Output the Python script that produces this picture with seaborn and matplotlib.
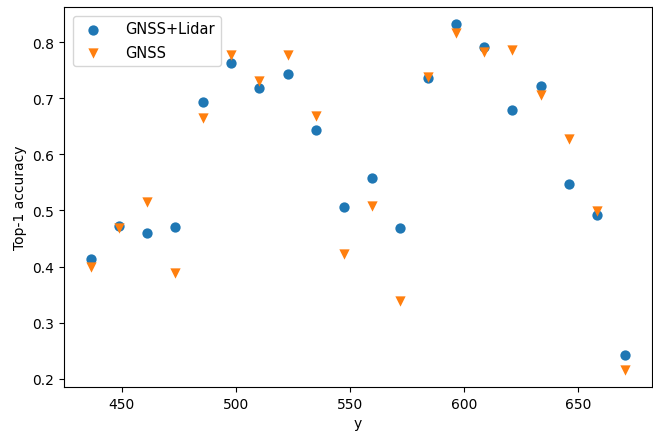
import matplotlib
matplotlib.use("Agg")
import matplotlib.pyplot as plt
import seaborn as sns
import pandas as pd

x_vals = [436.5, 448.8, 461.1, 473.5, 485.8, 498.1, 510.4, 522.7, 535.0, 547.4,
          559.7, 572.0, 584.3, 596.6, 608.9, 621.2, 633.6, 645.9, 658.2, 670.5]
gnss_lidar = [0.413, 0.473, 0.459, 0.470, 0.694, 0.762, 0.718, 0.743, 0.643, 0.506,
              0.558, 0.469, 0.736, 0.832, 0.792, 0.679, 0.722, 0.548, 0.492, 0.243]
gnss = [0.399, 0.469, 0.515, 0.388, 0.665, 0.777, 0.731, 0.777, 0.668, 0.422,
        0.508, 0.338, 0.737, 0.817, 0.782, 0.786, 0.705, 0.627, 0.499, 0.216]

df = pd.DataFrame({"y": x_vals, "GNSS+Lidar": gnss_lidar, "GNSS": gnss})

fig = plt.figure(figsize=(6.53, 4.39), dpi=100)
ax = fig.add_axes([0.098, 0.116, 0.900, 0.866])

sns.scatterplot(data=df, x="y", y="GNSS+Lidar", ax=ax, marker="o", s=55,
                color="#1f77b4", linewidth=0, label="GNSS+Lidar")
sns.scatterplot(data=df, x="y", y="GNSS", ax=ax, marker="v", s=55,
                color="#ff7f0e", linewidth=0, label="GNSS")

ax.set_xlabel("y")
ax.set_ylabel("Top-1 accuracy")
ax.legend(loc="upper left", fontsize=10.5, handletextpad=1.2, labelspacing=0.6,
          borderaxespad=0.6)

fig.savefig("out.png", dpi=100)
